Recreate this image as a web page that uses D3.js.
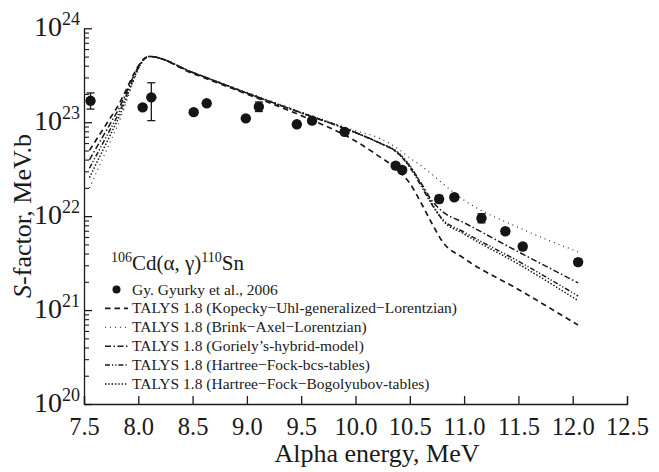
<!DOCTYPE html>
<html>
<head>
<meta charset="utf-8">
<script src="https://cdn.jsdelivr.net/npm/d3@7"></script>
<style>
  html, body { margin: 0; padding: 0; background: #fff; }
  svg { display: block; }
  text { font-family: "Liberation Serif", "Times New Roman", serif; fill: #1a1a1a; }
</style>
</head>
<body>
<svg id="chart" width="659" height="472"></svg>
<script>
// ---------------- data ----------------
const xTicks = [7.5, 8.0, 8.5, 9.0, 9.5, 10.0, 10.5, 11.0, 11.5, 12.0, 12.5];
const yMajorExp = [20, 21, 22, 23, 24];

// Experimental data: Gy. Gyurky et al., 2006
const expEnergy = [7.56, 8.04, 8.12, 8.51, 8.63, 8.99, 9.11, 9.46, 9.60, 9.90, 10.37, 10.43, 10.77, 10.91, 11.16, 11.38, 11.54, 12.05];
const expS      = [1.69e23, 1.44e23, 1.84e23, 1.28e23, 1.59e23, 1.10e23, 1.46e23, 9.5e22, 1.04e23, 7.9e22, 3.45e22, 3.1e22, 1.52e22, 1.59e22, 9.5e21, 6.9e21, 4.75e21, 3.24e21];
const expLow    = [1.38e23, 1.35e23, 1.04e23, 1.20e23, 1.49e23, 1.03e23, 1.30e23, 8.8e22, 9.7e22, 7.4e22, 3.2e22, 2.9e22, 1.39e22, 1.49e22, 8.5e21, 6.4e21, 4.4e21, 3.0e21];
const expHigh   = [2.05e23, 1.54e23, 2.63e23, 1.36e23, 1.70e23, 1.17e23, 1.64e23, 1.02e23, 1.11e23, 8.4e22, 3.7e22, 3.3e22, 1.66e22, 1.69e22, 1.06e22, 7.4e21, 5.1e21, 3.5e21];

// TALYS 1.8 curves (log10 of S-factor)
const modelEnergy = [7.55, 7.8, 8.1, 8.5, 9.0, 9.5, 10.0, 10.2, 10.4, 10.5, 10.6, 10.7, 10.8, 11.0, 11.5, 12.05];
const kopeckyLog  = [22.70, 23.15, 23.70, 23.52, 23.30, 23.07, 22.80, 22.65, 22.48, 22.35, 22.15, 21.93, 21.73, 21.55, 21.22, 20.84];
const brinkLog    = [22.30, 22.94, 23.70, 23.53, 23.32, 23.11, 22.91, 22.84, 22.71, 22.62, 22.54, 22.45, 22.35, 22.17, 21.88, 21.62];
const gorielyLog  = [22.60, 23.10, 23.70, 23.53, 23.31, 23.10, 22.89, 22.79, 22.66, 22.53, 22.36, 22.17, 22.05, 21.93, 21.62, 21.29];
const hfbcsLog    = [22.51, 23.05, 23.70, 23.53, 23.31, 23.10, 22.89, 22.79, 22.66, 22.52, 22.33, 22.13, 21.97, 21.83, 21.52, 21.15];
const hfbLog      = [22.41, 23.00, 23.70, 23.53, 23.31, 23.10, 22.89, 22.79, 22.67, 22.54, 22.35, 22.14, 21.96, 21.81, 21.49, 21.10];

const seriesNames = [
  "TALYS 1.8 (Kopecky\u2212Uhl-generalized\u2212Lorentzian)",
  "TALYS 1.8 (Brink\u2212Axel\u2212Lorentzian)",
  "TALYS 1.8 (Goriely\u2019s-hybrid-model)",
  "TALYS 1.8 (Hartree\u2212Fock-bcs-tables)",
  "TALYS 1.8 (Hartree\u2212Fock\u2212Bogolyubov-tables)"
];
const seriesLogs = [kopeckyLog, brinkLog, gorielyLog, hfbcsLog, hfbLog];

// ---------------- styles ----------------
const lineStyles = [
  { dash: "5.5,4", width: 1.7 },
  { dash: "1,4", width: 1.1 },
  { dash: "6,2.5,1.5,2.5", width: 1.5 },
  { dash: "5,2,1.2,2,1.2,2", width: 1.5 },
  { dash: "1.5,1.8", width: 1.5 }
];

const svg = d3.select("#chart");
const x = d3.scaleLinear().domain([7.5, 12.5]).range([84, 627]);
const y = d3.scaleLog().domain([1e20, 1e24]).range([404, 28.3]);

// ---------------- axes ----------------
const xAxis = d3.axisBottom(x).tickValues(xTicks).tickSize(-8).tickSizeOuter(-8)
  .tickFormat(d => d.toFixed(1));
const gx = svg.append("g").attr("transform", "translate(0,404)").call(xAxis);
gx.select(".domain").attr("stroke", "#1a1a1a").attr("stroke-width", 1.3);
gx.selectAll(".tick line").attr("stroke", "#1a1a1a").attr("stroke-width", 1.3);
gx.selectAll(".tick text").attr("y", 31).attr("dy", 0)
  .style("font-family", "Liberation Serif, serif").style("font-size", "24.5px").attr("fill", "#1a1a1a");

const minorVals = [];
for (let e = 20; e < 24; e++) for (let m = 2; m <= 9; m++) minorVals.push(m * Math.pow(10, e));
const majorVals = yMajorExp.map(e => Math.pow(10, e));

const gyMinor = svg.append("g").attr("transform", "translate(84,0)")
  .call(d3.axisLeft(y).tickValues(minorVals).tickSize(-5).tickFormat(""));
gyMinor.select(".domain").remove();
gyMinor.selectAll(".tick line").attr("stroke", "#1a1a1a").attr("stroke-width", 1.1);

const gy = svg.append("g").attr("transform", "translate(84,0)")
  .call(d3.axisLeft(y).tickValues(majorVals).tickSize(-8).tickSizeOuter(0).tickFormat(""));
gy.select(".domain").attr("stroke", "#1a1a1a").attr("stroke-width", 1.3);
gy.selectAll(".tick line").attr("stroke", "#1a1a1a").attr("stroke-width", 1.3);

// y tick labels 10^n
yMajorExp.forEach(e => {
  const t = svg.append("text")
    .attr("x", 80).attr("y", y(Math.pow(10, e)) + 8)
    .attr("text-anchor", "end");
  t.append("tspan").style("font-size", "28px").text("10");
  t.append("tspan").style("font-size", "18px").attr("dy", -11).text(String(e));
});

// axis titles
svg.append("text").attr("x", 377).attr("y", 462).attr("text-anchor", "middle")
  .style("font-size", "26px").text("Alpha energy, MeV");

const yt = svg.append("text")
  .attr("transform", "translate(31,216) rotate(-90)")
  .attr("text-anchor", "middle").style("font-size", "26px");
yt.append("tspan").style("font-style", "italic").text("S");
yt.append("tspan").text("-factor, MeV.b");

// ---------------- model curves ----------------
const line = d3.line()
  .x(d => x(d[0]))
  .y(d => y(Math.pow(10, d[1])))
  .curve(d3.curveMonotoneX);

seriesLogs.forEach((vals, i) => {
  const pts = modelEnergy.map((e, k) => [e, vals[k]]);
  svg.append("path")
    .attr("d", line(pts))
    .attr("fill", "none")
    .attr("stroke", "#1a1a1a")
    .attr("stroke-width", lineStyles[i].width)
    .attr("stroke-dasharray", lineStyles[i].dash);
});

// ---------------- experimental points ----------------
const gp = svg.append("g");
expEnergy.forEach((e, i) => {
  const cx = x(e);
  const y0 = y(expLow[i]), y1 = y(expHigh[i]);
  gp.append("line").attr("x1", cx).attr("x2", cx).attr("y1", y0).attr("y2", y1)
    .attr("stroke", "#1a1a1a").attr("stroke-width", 1.3);
  [y0, y1].forEach(yy => gp.append("line").attr("x1", cx - 4).attr("x2", cx + 4)
    .attr("y1", yy).attr("y2", yy).attr("stroke", "#1a1a1a").attr("stroke-width", 1.3));
  gp.append("circle").attr("cx", cx).attr("cy", y(expS[i])).attr("r", 5.2).attr("fill", "#151515");
});

// ---------------- legend ----------------
const title = svg.append("text").attr("x", 111).attr("y", 270);
title.append("tspan").style("font-size", "14px").attr("dy", -8).text("106");
title.append("tspan").style("font-size", "21px").attr("dy", 8).text("Cd(\u03b1, \u03b3)");
title.append("tspan").style("font-size", "14px").attr("dy", -8).text("110");
title.append("tspan").style("font-size", "21px").attr("dy", 8).text("Sn");

const legY0 = 289.5, legStep = 18.9;
svg.append("circle").attr("cx", 116.5).attr("cy", legY0).attr("r", 4).attr("fill", "#151515");
svg.append("text").attr("x", 132).attr("y", legY0 + 5).style("font-size", "15.5px")
  .text("Gy. Gyurky et al., 2006");

seriesNames.forEach((name, i) => {
  const ly = legY0 + legStep * (i + 1);
  svg.append("line").attr("x1", 105).attr("x2", 128).attr("y1", ly).attr("y2", ly)
    .attr("stroke", "#1a1a1a").attr("stroke-width", lineStyles[i].width)
    .attr("stroke-dasharray", lineStyles[i].dash);
  svg.append("text").attr("x", 132).attr("y", ly + 5).style("font-size", "15.5px").text(name);
});
</script>
</body>
</html>
